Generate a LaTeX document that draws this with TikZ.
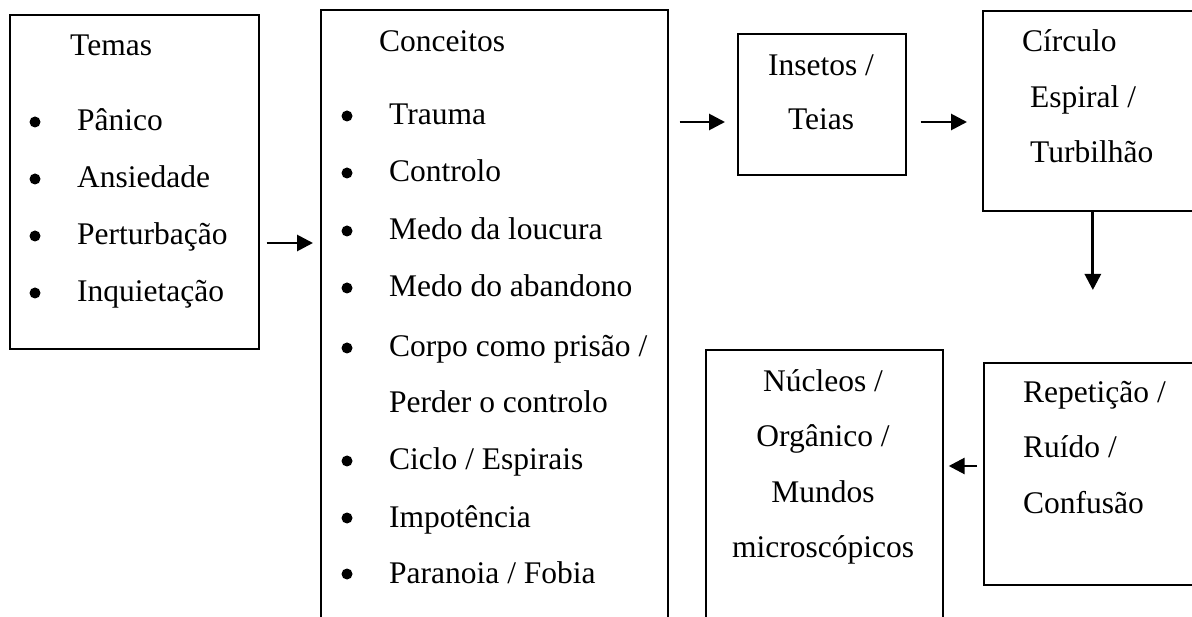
\documentclass[tikz,border=0pt]{standalone}
\usepackage{fontspec}
\setmainfont{Liberation Serif}
\usetikzlibrary{arrows.meta}

\tikzset{
	box/.style={draw, line width=1.7pt, anchor=north west, inner sep=0pt},
	txt/.style={inner sep=0pt, font=\fontsize{31.5}{38}\selectfont},
	dot/.style={circle, fill, inner sep=0pt, minimum size=11pt},
	arrow/.style={-{Triangle[length=16pt,width=16pt]}, line width=2.8pt},
}

\begin{document}
\begin{tikzpicture}[x=1pt,y=-1pt]
		\useasboundingbox (0,0) rectangle (1192,617);
		\clip (0,0) rectangle (1192,617);
		% caixas
		\node[box, minimum width=249pt, minimum height=334pt] (temas) at (9,14) {};
		\node[box, minimum width=347pt, minimum height=640pt] (conceitos) at (320,9) {};
		\node[box, minimum width=168pt, minimum height=141pt] (insetos) at (737,33) {};
		\node[box, minimum width=220pt, minimum height=200pt] (circulo) at (982,10) {};
		\node[box, minimum width=237pt, minimum height=300pt] (nucleos) at (705,349) {};
		\node[box, minimum width=219pt, minimum height=222pt] (repeticao) at (983,362) {};
		% temas
		\node[txt, anchor=base west] (temastit) at (70,56) {Temas};
		\foreach \t/\y [count=\i] in {{Pânico}/131, {Ansiedade}/188, {Perturbação}/245, {Inquietação}/302} {
			\node[dot] (tdot\i) at (35,\y-9) {};
			\node[txt, anchor=base west] (tema\i) at (77,\y) {\t};
		}
		% conceitos
		\node[txt, anchor=base west] (conctit) at (379,52) {Conceitos};
		\foreach \t/\y [count=\i] in {{Trauma}/125, {Controlo}/182, {Medo da loucura}/240, {Medo do abandono}/297, {Corpo como prisão /}/357, {Ciclo / Espirais}/470, {Impotência}/527, {Paranoia / Fobia}/583} {
			\node[dot] (cdot\i) at (347,\y-9) {};
			\node[txt, anchor=base west] (conc\i) at (389,\y) {\t};
		}
		\node[txt, anchor=base west] (concperder) at (389,413) {Perder o controlo};
		% restantes caixas
		\node[txt, anchor=base] (ins1) at (821,76) {Insetos /};
		\node[txt, anchor=base] (ins2) at (821,130) {Teias};
		\node[txt, anchor=base west] (circ1) at (1022,52) {Círculo};
		\node[txt, anchor=base west] (circ2) at (1030,108) {Espiral /};
		\node[txt, anchor=base west] (circ3) at (1030,163) {Turbilhão};
		\foreach \t/\y [count=\i] in {{Núcleos /}/392, {Orgânico /}/447, {Mundos}/502, {microscópicos}/557}
			\node[txt, anchor=base] (nuc\i) at (823,\y) {\t};
		\foreach \t/\y [count=\i] in {{Repetição /}/403, {Ruído /}/458, {Confusão}/514}
			\node[txt, anchor=base west] (rep\i) at (1023,\y) {\t};
		% setas
		\draw[arrow, shorten <=7pt, shorten >=7pt] (temas.east |- 0,243) -- (conceitos.west |- 0,243);
		\draw[arrow, shorten <=11pt, shorten >=12pt] (conceitos.east |- 0,122) -- (insetos.west |- 0,122);
		\draw[arrow, shorten <=14pt, shorten >=15pt] (insetos.east |- 0,122) -- (circulo.west |- 0,122);
		\draw[arrow, shorten >=72pt] (circulo.south) -- (repeticao.north -| circulo.south);
		\draw[arrow, shorten <=6pt, shorten >=5pt] (repeticao.west |- 0,466) -- (nucleos.east |- 0,466);
\end{tikzpicture}
\end{document}
